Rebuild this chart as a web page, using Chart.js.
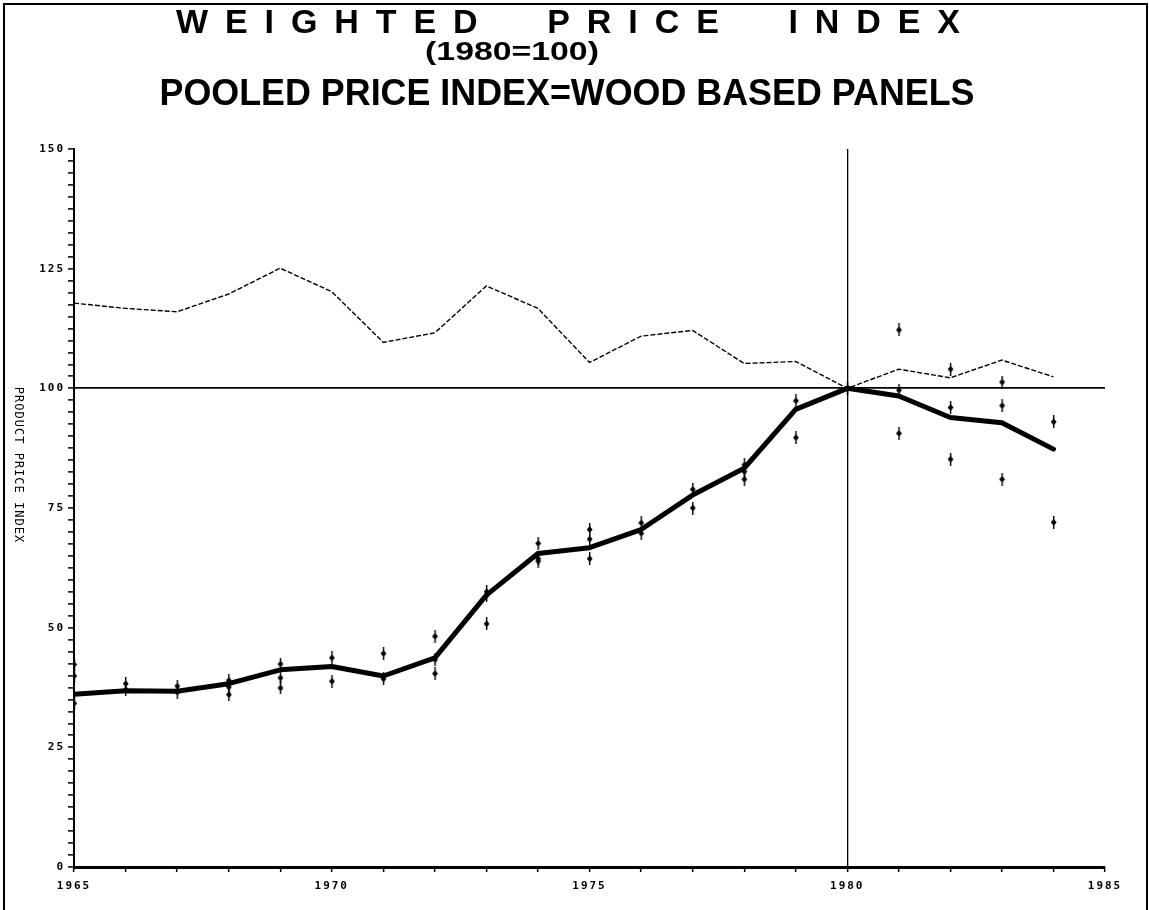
<!DOCTYPE html>
<html>
<head>
<meta charset="utf-8">
<script src="https://cdn.jsdelivr.net/npm/chart.js@4.4.1/dist/chart.umd.min.js"></script>
<style>
  body { margin: 0; background: #fff; }
  canvas { display: block; }
</style>
</head>
<body>
<canvas id="chart" width="1149" height="910"></canvas>
<script>
// values
const years = [1965, 1966, 1967, 1968, 1969, 1970, 1971, 1972, 1973, 1974,
               1975, 1976, 1977, 1978, 1979, 1980, 1981, 1982, 1983, 1984];
const pooledIndex = [117.8, 116.7, 116.0, 119.7, 125.1, 120.2, 109.6, 111.6, 121.4, 116.7,
                     105.4, 110.9, 112.1, 105.2, 105.6, 100.0, 104.0, 102.2, 105.9, 102.4];
const weightedIndex = [36.1, 36.8, 36.7, 38.3, 41.2, 41.9, 39.9, 43.7, 56.8, 65.5,
                       66.7, 70.5, 77.7, 83.3, 95.6, 100.0, 98.4, 93.9, 92.8, 87.3];

// single products (one mark per product and year)
const productYears = [1965, 1965, 1965, 1966, 1966, 1967, 1967, 1968, 1968, 1968,
                      1969, 1969, 1969, 1970, 1970, 1971, 1971, 1972, 1972, 1972,
                      1973, 1973, 1973, 1974, 1974, 1974, 1975, 1975, 1975, 1976,
                      1976, 1977, 1977, 1978, 1978, 1978, 1979, 1979, 1980, 1981,
                      1981, 1981, 1982, 1982, 1982, 1983, 1983, 1983, 1984, 1984];
const productValues = [42.3, 39.9, 34.2, 38.3, 37.1, 37.8, 36.5, 39.0, 37.6, 36.0,
                       42.4, 39.5, 37.4, 43.7, 38.8, 44.6, 39.3, 48.2, 43.3, 40.4,
                       57.5, 56.7, 50.8, 67.6, 64.4, 63.9, 70.5, 68.5, 64.4, 71.9,
                       69.7, 78.9, 75.0, 84.0, 82.6, 81.0, 97.4, 89.7, 100.0, 112.2,
                       99.6, 90.6, 104.0, 96.0, 85.2, 101.3, 96.4, 81.0, 93.0, 72.0];

const yTicks = [0, 25, 50, 75, 100, 125, 150];
const xTicks = [1965, 1970, 1975, 1980, 1985];
const baseYear = 1980;
const baseValue = 100;

const titleLines = ["WEIGHTED PRICE INDEX", "(1980=100)", "POOLED PRICE INDEX=WOOD BASED PANELS"];
const yTitle = "PRODUCT PRICE INDEX";

// the little "+ with diamond" marker of the plotter
function makeMarker() {
  const c = document.createElement("canvas");
  c.width = 9; c.height = 13;
  const g = c.getContext("2d");
  g.fillStyle = "#000";
  g.fillRect(4, 0, 1.4, 13);
  g.beginPath();
  g.moveTo(4.7, 3);
  g.lineTo(7.6, 6.5);
  g.lineTo(4.7, 10);
  g.lineTo(1.8, 6.5);
  g.closePath();
  g.fill();
  return c;
}

const toPoints = (xs, ys) => xs.map((x, i) => ({ x: x, y: ys[i] }));

// spread a line of text so that it fills a given width (word gaps doubled)
function spacedText(ctx, text, left, width, baseline) {
  const t = text.replace(/ /g, "  ");
  ctx.letterSpacing = "0px";
  const w0 = ctx.measureText(t).width;
  const gap = (width - w0) / (t.length - 1);
  ctx.letterSpacing = gap + "px";
  ctx.textAlign = "left";
  ctx.fillText(t, left, baseline);
  ctx.letterSpacing = "0px";
}

const decorations = {
  id: "decorations",
  beforeDraw(chart) {
    chart.ctx.letterSpacing = "2px";
  },
  afterDraw(chart) {
    const ctx = chart.ctx;
    ctx.save();
    ctx.fillStyle = "#000";
    ctx.textBaseline = "alphabetic";

    ctx.font = "bold 34px 'Liberation Sans', Arial, sans-serif";
    spacedText(ctx, titleLines[0], 176, 784, 33);

    ctx.textAlign = "center";
    ctx.save();
    ctx.translate(512, 60);
    ctx.scale(1.3, 1);
    ctx.font = "bold 26px 'Liberation Sans', Arial, sans-serif";
    ctx.fillText(titleLines[1], 0, 0);
    ctx.restore();

    ctx.font = "bold 36px 'Liberation Sans', Arial, sans-serif";
    ctx.fillText(titleLines[2], 567, 105, 815);

    // rotated axis title, reading downwards
    ctx.translate(18, 465);
    ctx.rotate(Math.PI / 2);
    ctx.font = "12px 'DejaVu Sans Mono', monospace";
    ctx.letterSpacing = "1px";
    ctx.textBaseline = "middle";
    ctx.fillText(yTitle, 0, 0);
    ctx.restore();

    // frame round the page
    ctx.save();
    ctx.strokeStyle = "#000";
    ctx.lineWidth = 2;
    ctx.beginPath();
    ctx.moveTo(4, 912);
    ctx.lineTo(4, 4);
    ctx.lineTo(1147, 4);
    ctx.lineTo(1147, 912);
    ctx.stroke();
    ctx.restore();
  }
};

const marker = makeMarker();

new Chart(document.getElementById("chart"), {
  type: "line",
  data: {
    datasets: [
      {
        label: "Pooled price index",
        data: toPoints(years, pooledIndex),
        borderColor: "#000",
        borderWidth: 1.4,
        borderDash: [5, 2],
        pointRadius: 0,
        tension: 0
      },
      {
        label: "Weighted price index",
        data: toPoints(years, weightedIndex),
        borderColor: "#000",
        borderWidth: 5,
        borderJoinStyle: "round",
        borderCapStyle: "round",
        pointRadius: 0,
        tension: 0
      },
      {
        label: "Products",
        type: "scatter",
        data: toPoints(productYears, productValues),
        pointStyle: marker,
        pointRadius: 5,
        showLine: false
      }
    ]
  },
  options: {
    responsive: false,
    animation: false,
    events: [],
    layout: { padding: { left: 0, right: 44, top: 149, bottom: 0 } },
    plugins: {
      legend: { display: false },
      tooltip: { enabled: false },
      title: { display: false }
    },
    scales: {
      x: {
        type: "linear",
        min: 1965,
        max: 1985,
        afterFit: s => { s.height = 43; },
        border: { color: "#000", width: 3 },
        grid: {
          drawOnChartArea: true,
          color: c => (c.tick && c.tick.value === baseYear ? "#000" : "rgba(0,0,0,0)"),
          lineWidth: 1.3,
          tickColor: "#000",
          tickLength: 5,
          tickWidth: 1.5
        },
        ticks: {
          stepSize: 1,
          autoSkip: false,
          maxRotation: 0,
          padding: 8,
          color: "#000",
          font: { family: "'DejaVu Sans Mono', monospace", size: 11, weight: "bold" },
          callback: v => (xTicks.includes(v) ? String(v) : "")
        }
      },
      y: {
        min: 0,
        max: 150,
        afterFit: s => { s.width = 74; },
        border: { color: "#000", width: 2 },
        grid: {
          drawOnChartArea: true,
          color: c => (c.tick && c.tick.value === baseValue ? "#000" : "rgba(0,0,0,0)"),
          lineWidth: 1.8,
          tickColor: "#000",
          tickLength: 6,
          tickWidth: 1.5
        },
        ticks: {
          stepSize: 2.5,
          autoSkip: false,
          padding: 3,
          color: "#000",
          font: { family: "'DejaVu Sans Mono', monospace", size: 11, weight: "bold" },
          callback: v => (yTicks.includes(v) ? String(v) : "")
        }
      }
    }
  },
  plugins: [decorations]
});
</script>
</body>
</html>
